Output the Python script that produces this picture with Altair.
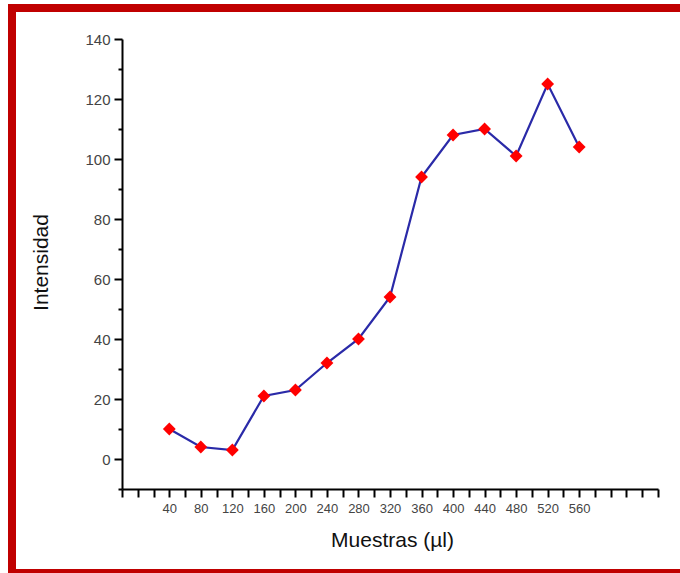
import altair as alt
import pandas as pd

# Sample volumes (µl) and measured intensities
muestras = [40, 80, 120, 160, 200, 240, 280, 320, 360, 400, 440, 480, 520, 560]
intensidad = [10, 4, 3, 21, 23, 32, 40, 54, 94, 108, 110, 101, 125, 104]

x_ticks = list(range(-20, 661, 20))
x_labels = list(range(40, 561, 40))
y_ticks = list(range(-10, 141, 10))

df = pd.DataFrame({"muestras": muestras, "intensidad": intensidad})

FONT = "Liberation Sans"
W, H = 536, 450
LEFT, TOP = 122, 39

x_enc = alt.X(
    "muestras:Q",
    scale=alt.Scale(domain=[-20, 660], nice=False, zero=False),
    axis=alt.Axis(
        title="Muestras (µl)",
        values=x_ticks,
        labelExpr="(datum.value >= 40 && datum.value <= 560 && datum.value % 40 === 0) ? datum.label : ''",
        grid=False,
        tickSize=8,
        tickWidth=2,
        domainWidth=2,
        domainColor="black",
        tickColor="black",
        labelPadding=5,
        labelFontSize=13,
        labelColor="#444444",
        labelFont=FONT,
        labelFlush=False,
        labelOverlap=False,
        titleFont=FONT,
        titleFontSize=21,
        titleFontWeight="normal",
        titleColor="#111111",
        titleX=270,
        titleY=51,
        titleBaseline="middle",
    ),
)

y_enc = alt.Y(
    "intensidad:Q",
    scale=alt.Scale(domain=[-10, 140], nice=False, zero=False),
    axis=alt.Axis(
        title="Intensidad",
        values=y_ticks,
        labelExpr="(datum.value % 20 === 0 && datum.value >= 0) ? datum.label : ''",
        grid=False,
        tickSize={"condition": {"test": "datum.value % 20 === 0", "value": 8}, "value": 4},
        tickWidth=2,
        domainWidth=2,
        domainColor="black",
        tickColor="black",
        labelPadding=4,
        labelFontSize=15,
        labelColor="#444444",
        labelFont=FONT,
        labelFlush=False,
        labelOverlap=False,
        titleFont=FONT,
        titleFontSize=21,
        titleFontWeight="normal",
        titleColor="#111111",
        titleAngle=-90,
        titleX=-81,
        titleY=223,
        titleBaseline="middle",
    ),
)

base = alt.Chart(df).encode(x=x_enc, y=y_enc)

line = base.mark_line(color="#2a2aa8", strokeWidth=2.2)
points = base.mark_point(
    shape="diamond", filled=True, color="#ff0000", size=165, opacity=1
)

# Red frame around the figure
frame_color = "#c00000"
frame_left = alt.Chart(df).mark_rule(color=frame_color, strokeWidth=8, clip=False).encode(
    x=alt.value(12 - LEFT), y=alt.value(4 - TOP), y2=alt.value(580 - TOP)
)
frame_top = alt.Chart(df).mark_rule(color=frame_color, strokeWidth=8, clip=False).encode(
    x=alt.value(8 - LEFT), x2=alt.value(690 - LEFT), y=alt.value(8 - TOP)
)
frame_bottom = alt.Chart(df).mark_rule(color=frame_color, strokeWidth=8, clip=False).encode(
    x=alt.value(8 - LEFT), x2=alt.value(690 - LEFT), y=alt.value(573 - TOP)
)

chart = (
    alt.layer(line, points, frame_left, frame_top, frame_bottom)
    .properties(
        width=W,
        height=H,
        autosize=alt.AutoSizeParams(type="none"),
        padding={"left": LEFT, "top": TOP, "right": 680 - LEFT - W, "bottom": 573 - TOP - H},
        background="white",
    )
    .configure_view(stroke=None)
)

chart.save("out.html", embed_options={"renderer": "svg", "actions": False})
